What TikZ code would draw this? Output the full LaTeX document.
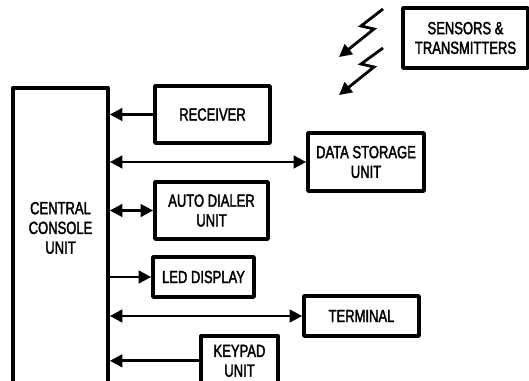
\documentclass[tikz,border=0pt]{standalone}
\usepackage{fontspec}
\setmainfont{Liberation Sans}[FakeStretch=0.74, FakeBold=2]
\usetikzlibrary{arrows.meta}

\tikzset{
  unit/.style = {draw, line width=2.6pt, line join=round, align=center, font=\fontsize{12.5}{14}\selectfont, inner sep=0pt},
  link/.style = {line width=2pt, {Triangle[length=9pt,width=9pt]}-},
  both/.style = {line width=2pt, {Triangle[length=9pt,width=9pt]}-{Triangle[length=9pt,width=9pt]}},
  bolt/.style = {line width=2pt, line join=miter, -{Triangle[length=9pt,width=9pt]}}
}

\begin{document}
\begin{tikzpicture}[x=0.025cm, y=-0.025cm]
\clip (0,0) rectangle (529,381);

\node[unit, minimum width=2.375cm, minimum height=8cm, anchor=north,
  label={[font=\fontsize{12.5}{14}\selectfont, align=center, yshift=0.5cm]center:CENTRAL\\CONSOLE\\UNIT}] (console) at (60.5,86) {};

\node[unit, minimum width=2.875cm, minimum height=1.425cm] (rcv) at (212.5,114.5) {RECEIVER};
\node[unit, minimum width=2.9cm, minimum height=1.45cm] (store) at (366,162) {DATA STORAGE\\UNIT};
\node[unit, minimum width=2.825cm, minimum height=1.425cm] (dial) at (211.5,210.5) {AUTO DIALER\\UNIT};
\node[unit, minimum width=2.525cm, minimum height=1cm] (led) at (203.5,277) {LED DISPLAY};
\node[unit, minimum width=2.875cm, minimum height=1cm] (term) at (361.5,316) {TERMINAL};
\node[unit, minimum width=1.925cm, minimum height=1.25cm, anchor=north] (keypad) at (239.5,334) {KEYPAD\\UNIT};
\node[unit, minimum width=3.125cm, minimum height=1.5cm] (sensor) at (465.5,38) {SENSORS \&\\TRANSMITTERS};

\draw[link] (console.east |- rcv.west) -- (rcv.west);
\draw[both] (console.east |- store.west) -- (store.west);
\draw[both] (console.east |- dial.west) -- (dial.west);
\draw[link] (led.west) -- (console.east |- led.west);
\draw[both] (console.east |- term.west) -- (term.west);
\draw[link] (console.east |- keypad.west) -- (keypad.west);

\draw[bolt] (383,9) -- (361,26) -- (374,29) -- (339,57);
\draw[bolt] (383,48) -- (361,64) -- (374,67) -- (339,95);

\end{tikzpicture}
\end{document}
